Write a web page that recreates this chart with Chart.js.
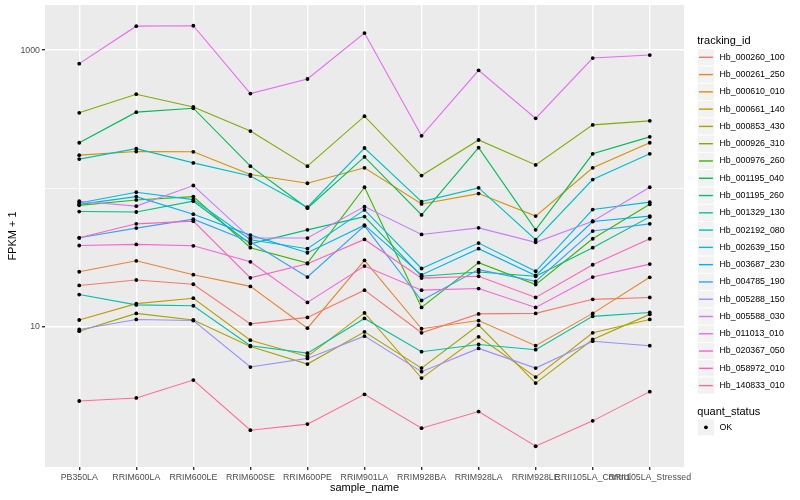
<!DOCTYPE html>
<html lang="en">
<head>
<meta charset="UTF-8">
<title>FPKM + 1 by sample</title>
<script src="https://cdn.jsdelivr.net/npm/chart.js"></script>
<style>
    html, body { margin: 0; padding: 0; background: #fff; }
    #wrap { width: 800px; height: 500px; position: relative; }
</style>
</head>
<body>
<div id="wrap"><canvas id="fpkmChart"></canvas></div>
<script>
    // x axis categories
    const sampleNames = ['PB350LA', 'RRIM600LA', 'RRIM600LE', 'RRIM600SE', 'RRIM600PE', 'RRIM901LA',
        'RRIM928BA', 'RRIM928LA', 'RRIM928LE', 'RRII105LA_Control', 'RRII105LA_Stressed'];

    const trackingIds = ['Hb_000260_100', 'Hb_000261_250', 'Hb_000610_010', 'Hb_000661_140', 'Hb_000853_430',
        'Hb_000926_310', 'Hb_000976_260', 'Hb_001195_040', 'Hb_001195_260', 'Hb_001329_130',
        'Hb_002192_080', 'Hb_002639_150', 'Hb_003687_230', 'Hb_004785_190', 'Hb_005288_150',
        'Hb_005588_030', 'Hb_011013_010', 'Hb_020367_050', 'Hb_058972_010', 'Hb_140833_010'];

    // FPKM + 1, one value per sample (same order as sampleNames)
    const hb000260_100 = [19.9, 21.8, 20.3, 10.5, 11.7, 18.4, 9.05, 12.4, 12.5, 15.8, 16.3];
    const hb000261_250 = [25.0, 30.0, 23.8, 19.6, 9.77, 30.2, 9.68, 11.1, 7.30, 12.5, 22.8];
    const hb000610_010 = [174, 185, 184, 126, 109, 141, 77.3, 91.8, 63.1, 141, 214];
    const hb000661_140 = [11.2, 14.7, 16.1, 8.00, 6.11, 12.6, 4.26, 8.47, 4.33, 9.05, 11.3];
    const hb000853_430 = [9.30, 12.5, 11.2, 7.21, 5.38, 9.20, 5.03, 10.3, 3.92, 8.10, 12.3];
    const hb000926_310 = [352, 480, 388, 260, 145, 333, 124, 224, 148, 288, 308];
    const hb000976_260 = [75.5, 82.6, 87.3, 37.3, 28.9, 102, 13.8, 29.1, 20.2, 43.3, 76.9];
    const hb001195_040 = [214, 356, 380, 145, 72.0, 169, 64.4, 197, 50.2, 178, 236];
    const hb001195_260 = [68.1, 67.6, 80.9, 39.8, 50.2, 62.6, 23.2, 24.9, 23.2, 37.3, 62.3];
    const hb001329_130 = [17.1, 14.4, 14.2, 7.30, 6.45, 11.5, 6.61, 7.45, 6.83, 11.9, 12.7];
    const hb002192_080 = [163, 194, 153, 123, 73.2, 196, 80.3, 101, 42.6, 116, 178];
    const hb002639_150 = [78.6, 93.9, 83.0, 42.6, 36.7, 70.0, 26.4, 40.3, 25.2, 70.4, 79.6];
    const hb003687_230 = [76.7, 87.3, 65.2, 46.0, 34.3, 54.3, 23.7, 36.7, 23.5, 57.7, 63.1];
    const hb004785_190 = [44.0, 51.7, 60.0, 41.0, 22.9, 53.7, 15.5, 25.9, 21.3, 49.2, 55.5];
    const hb005288_150 = [9.57, 11.3, 11.1, 5.12, 5.91, 8.56, 4.74, 6.98, 5.03, 7.87, 7.30];
    const hb005588_030 = [80.9, 74.5, 105, 43.8, 43.8, 73.9, 46.5, 51.9, 40.8, 58.0, 102];
    const hb011013_010 = [798, 1489, 1500, 485, 618, 1327, 240, 714, 321, 876, 921];
    const hb020367_050 = [38.7, 39.4, 38.5, 29.5, 15.0, 27.5, 18.4, 18.9, 13.8, 22.9, 28.4];
    const hb058972_010 = [44.0, 55.5, 58.0, 22.6, 28.6, 42.8, 22.5, 23.2, 16.3, 28.1, 43.3];
    const hb140833_010 = [2.91, 3.06, 4.12, 1.79, 1.98, 3.25, 1.85, 2.44, 1.37, 2.09, 3.40];

    const seriesValues = [hb000260_100, hb000261_250, hb000610_010, hb000661_140, hb000853_430,
        hb000926_310, hb000976_260, hb001195_040, hb001195_260, hb001329_130,
        hb002192_080, hb002639_150, hb003687_230, hb004785_190, hb005288_150,
        hb005588_030, hb011013_010, hb020367_050, hb058972_010, hb140833_010];

    const quantStatus = ['OK'];

    // y axis: labelled breaks and the minor line between them
    const yBreaks = [10, 1000];
    const yMinor = [100];

    // ggplot hue palette, 20 levels
    const palette = ['#F8766D', '#EA8331', '#D89000', '#C09B00', '#A3A500', '#7CAE00', '#39B600', '#00BB4E',
        '#00BF7D', '#00C1A3', '#00BFC4', '#00BAE0', '#00B0F6', '#35A2FF', '#9590FF', '#C77CFF',
        '#E76BF3', '#FA62DB', '#FF62BC', '#FF6C91'];

    const FONT = '"Liberation Sans", Arial, sans-serif';

    const toPoints = vals => vals.map((v, i) => ({ x: i, y: v }));

    // lines first (ggplot draws geom_line under geom_point)
    const lineSets = seriesValues.map((vals, i) => ({
        label: trackingIds[i],
        data: toPoints(vals),
        borderColor: palette[i],
        backgroundColor: palette[i],
        borderWidth: 1.1,
        pointRadius: 0,
        pointHoverRadius: 0,
        tension: 0,
        fill: false,
        order: 100 - i
    }));
    const pointSets = seriesValues.map((vals, i) => ({
        type: 'scatter',
        label: trackingIds[i] + ' points',
        data: toPoints(vals),
        showLine: false,
        borderColor: 'rgba(0,0,0,0)',
        backgroundColor: '#000',
        borderWidth: 0,
        pointRadius: 1.9,
        pointBackgroundColor: '#000',
        pointBorderColor: '#000',
        pointBorderWidth: 0,
        order: 0
    }));

    // grey panel
    const panelBg = {
        id: 'panelBg',
        beforeDraw(chart) {
            const a = chart.chartArea, ctx = chart.ctx;
            ctx.save();
            ctx.fillStyle = '#EBEBEB';
            ctx.fillRect(a.left, a.top, a.right - a.left, a.bottom - a.top);
            ctx.restore();
        }
    };

    // axis titles and the two legends
    const ggLegend = {
        id: 'ggLegend',
        afterDraw(chart) {
            const a = chart.chartArea, ctx = chart.ctx;
            ctx.save();
            ctx.fillStyle = '#000';
            ctx.textBaseline = 'middle';
            ctx.textAlign = 'center';
            ctx.font = '11px ' + FONT;
            ctx.fillText('sample_name', (a.left + a.right) / 2, 488);
            ctx.save();
            ctx.translate(13, (a.top + a.bottom) / 2);
            ctx.rotate(-Math.PI / 2);
            ctx.fillText('FPKM + 1', 0, 0);
            ctx.restore();

            const kx = 697.3, ks = 17.28, tx = 719.5;
            ctx.textAlign = 'left';
            ctx.fillText('tracking_id', kx, 40.7);
            ctx.font = '8.8px ' + FONT;
            trackingIds.forEach((id, i) => {
                const cy = 57.3 + i * ks;
                ctx.fillStyle = '#F2F2F2';
                ctx.fillRect(kx + 0.5, cy - ks / 2 + 0.5, ks - 1, ks - 1);
                ctx.strokeStyle = palette[i];
                ctx.lineWidth = 1.4;
                ctx.beginPath();
                ctx.moveTo(kx + 1.7, cy);
                ctx.lineTo(kx + ks - 1.7, cy);
                ctx.stroke();
                ctx.fillStyle = '#000';
                ctx.fillText(id, tx, cy);
            });

            ctx.font = '11px ' + FONT;
            ctx.fillText('quant_status', kx, 412);
            ctx.font = '8.8px ' + FONT;
            quantStatus.forEach((s, i) => {
                const cy = 427.3 + i * ks;
                ctx.fillStyle = '#F2F2F2';
                ctx.fillRect(kx + 0.5, cy - ks / 2 + 0.5, ks - 1, ks - 1);
                ctx.fillStyle = '#000';
                ctx.beginPath();
                ctx.arc(kx + ks / 2, cy, 1.9, 0, Math.PI * 2);
                ctx.fill();
                ctx.fillText(s, tx, cy);
            });
            ctx.restore();
        }
    };

    new Chart(document.getElementById('fpkmChart').getContext('2d'), {
        type: 'line',
        data: { datasets: lineSets.concat(pointSets) },
        options: {
            responsive: true,
            maintainAspectRatio: false,
            animation: false,
            layout: { padding: { left: 0, right: 116, top: 5, bottom: 0 } },
            plugins: { legend: { display: false }, tooltip: { enabled: false } },
            scales: {
                x: {
                    type: 'linear',
                    min: -0.6,
                    max: sampleNames.length - 0.4,
                    afterBuildTicks: s => { s.ticks = sampleNames.map((n, i) => ({ value: i })); },
                    afterFit: s => { s.height = 33; s.paddingLeft = 0; s.paddingRight = 0; },
                    ticks: {
                        autoSkip: false, maxRotation: 0, minRotation: 0, padding: 2,
                        color: '#4D4D4D', font: { family: FONT, size: 8.8 },
                        callback: (v, i) => sampleNames[i]
                    },
                    grid: { color: '#FFFFFF', lineWidth: 1.4, tickLength: 3, tickColor: '#333333' },
                    border: { display: false }
                },
                y: {
                    type: 'logarithmic',
                    min: 0.97,
                    max: 2118,
                    afterBuildTicks: s => {
                        s.ticks = yBreaks.concat(yMinor).sort((p, q) => p - q).map(v => ({ value: v }));
                    },
                    afterFit: s => { s.width = 45; s.paddingTop = 0; s.paddingBottom = 0; },
                    ticks: {
                        padding: 2, color: '#4D4D4D', font: { family: FONT, size: 8.8 },
                        callback: v => (yBreaks.includes(v) ? String(v) : '')
                    },
                    grid: {
                        color: '#FFFFFF',
                        lineWidth: c => (c.tick && yMinor.includes(c.tick.value) ? 0.7 : 1.4),
                        tickLength: 3,
                        tickColor: c => (c.tick && yMinor.includes(c.tick.value) ? 'rgba(0,0,0,0)' : '#333333')
                    },
                    border: { display: false }
                }
            }
        },
        plugins: [panelBg, ggLegend]
    });
</script>
</body>
</html>
